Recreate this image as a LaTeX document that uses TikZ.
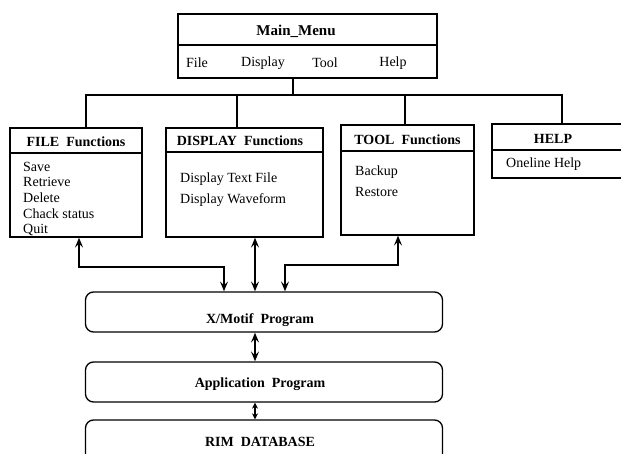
\documentclass[tikz,border=0pt]{standalone}
\usepackage{fontspec}
\setmainfont{Liberation Serif}
\usetikzlibrary{arrows.meta,positioning}
\begin{document}
\begin{tikzpicture}[x=1pt,y=-1pt,
  box/.style={draw,line width=1.3pt,rectangle,inner sep=0pt},
  titlefont/.style={font=\fontsize{14}{16}\selectfont\bfseries},
  itemfont/.style={font=\fontsize{14}{16}\selectfont},
  item/.style={itemfont,anchor=west,inner sep=0pt,text height=9.5pt,text depth=3pt},
  prog/.style={draw,line width=1.3pt,rounded corners=8pt,minimum width=357pt,inner sep=0pt},
  wire/.style={line width=1.3pt},
  link/.style={line width=1.2pt,{Stealth[length=10pt,width=8pt,inset=4pt]}-{Stealth[length=10pt,width=8pt,inset=4pt]}},
  shortlink/.style={line width=1.8pt,{Stealth[length=6pt,width=6pt]}-{Stealth[length=6pt,width=6pt]}}
]
\useasboundingbox (0,0) rectangle (621,454);

% main menu
\node[box,minimum width=259pt,minimum height=31pt] (menutitle) at (307.5,29.5) {};
\node[box,minimum width=259pt,minimum height=33pt] (menubar) at (307.5,61.5) {};
\node[font=\fontsize{15}{17}\selectfont\bfseries] (menuname) at (296,31) {Main\_Menu};
\node[itemfont] (mfile) at (197,63) {File};
\node[itemfont] (mdisp) at (263,63) {Display};
\node[itemfont] (mtool) at (325,63) {Tool};
\node[itemfont] (mhelp) at (393,63) {Help};

% function boxes
\node[box,minimum width=132pt,minimum height=25pt] (filetitle) at (76,140.5) {};
\node[box,minimum width=132pt,minimum height=84pt] (filebody) at (76,195) {};
\node[titlefont] (filename) at (76,142) {FILE\ \ Functions};
\node[item] (fsave) at (23,168) {Save};
\node[item] (fret) at (23,183.5) {Retrieve};
\node[item] (fdel) at (23,199) {Delete};
\node[item] (fchk) at (23,215) {Chack status};
\node[item] (fquit) at (23,230) {Quit};

\node[box,minimum width=157pt,minimum height=24pt] (disptitle) at (244.5,140) {};
\node[box,minimum width=157pt,minimum height=85pt] (dispbody) at (244.5,194.5) {};
\node[titlefont] (dispname) at (240,141) {DISPLAY\ \ Functions};
\node[item] (dtext) at (180,179) {Display Text File};
\node[item] (dwave) at (180,200) {Display Waveform};

\node[box,minimum width=133pt,minimum height=26pt] (tooltitle) at (407.5,138) {};
\node[box,minimum width=133pt,minimum height=84pt] (toolbody) at (407.5,193) {};
\node[titlefont] (toolname) at (407.5,140) {TOOL\ \ Functions};
\node[item] (tback) at (355,172) {Backup};
\node[item] (trest) at (355,193) {Restore};

\node[box,minimum width=140pt,minimum height=26pt] (helptitle) at (562,137) {};
\node[box,minimum width=140pt,minimum height=28pt] (helpbody) at (562,164) {};
\node[titlefont] (helpname) at (553,139) {HELP};
\node[item] (honline) at (506,164) {Oneline Help};

% menu tree
\coordinate (bus) at (293,95);
\draw[wire] ([xshift=-14.5pt]menubar.south) -- (bus);
\draw[wire] ([xshift=10pt]filetitle.north) |- (bus) -| (helptitle.north);
\draw[wire] ([xshift=-7.5pt]disptitle.north) -- ([xshift=-7.5pt]disptitle.north |- bus);
\draw[wire] ([xshift=-2.5pt]tooltitle.north) -- ([xshift=-2.5pt]tooltitle.north |- bus);

% program layers
\node[prog,minimum height=40pt] (xmotif) at (264,312) {};
\node[titlefont] (xmotifname) at (260,320) {X/Motif\ \ Program};
\node[prog,minimum height=40pt] (app) at (264,382) {};
\node[titlefont] (appname) at (260,384) {Application\ \ Program};
\node[prog,minimum height=42pt] (rim) at (264,441) {};
\node[titlefont] (rimname) at (260,442) {RIM\ \ DATABASE};

% links between the function boxes and the X/Motif layer
\coordinate (fturn) at (79,267);
\coordinate (tturn) at (398,265);
\draw[link] ([xshift=3pt]filebody.south) |- ([xshift=-40pt]xmotif.north |- fturn) -- ([xshift=-40pt]xmotif.north);
\draw[link] ([xshift=10.5pt]dispbody.south) -- ([xshift=-9pt]xmotif.north);
\draw[link] ([xshift=-9.5pt]toolbody.south) |- ([xshift=21pt]xmotif.north |- tturn) -- ([xshift=21pt]xmotif.north);
\draw[link] ([xshift=-9pt]xmotif.south) -- ([xshift=-9pt]app.north);
\draw[shortlink] ([xshift=-9pt]app.south) -- ([xshift=-9pt]rim.north);
\end{tikzpicture}
\end{document}
